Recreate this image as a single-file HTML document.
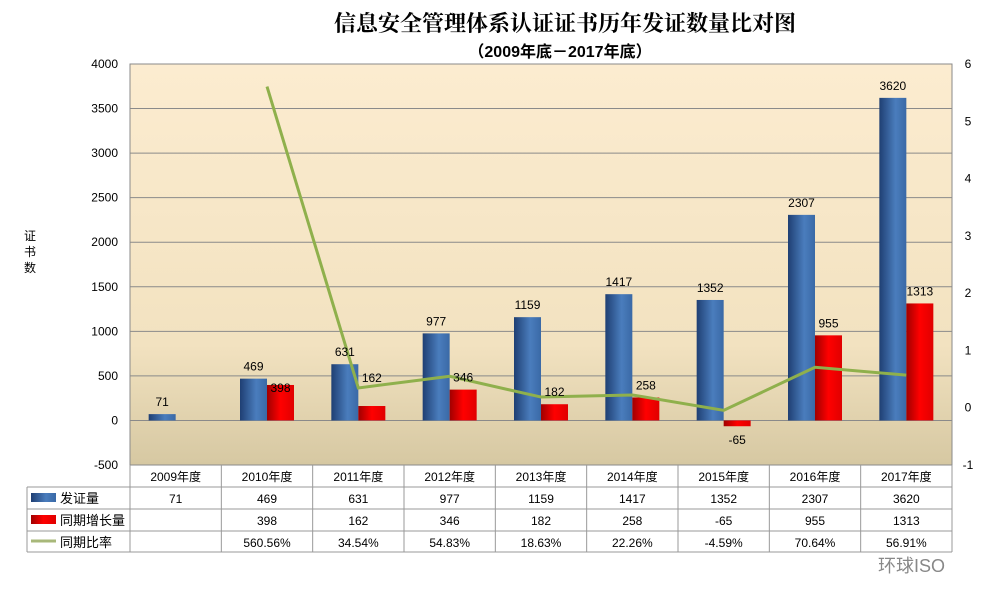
<!DOCTYPE html>
<html><head><meta charset="utf-8"><style>
body{margin:0;background:#fff;width:996px;height:607px;overflow:hidden;font-family:"Liberation Sans","Noto Sans CJK SC",sans-serif}
</style></head><body>
<svg id="chart" width="996" height="607" xmlns="http://www.w3.org/2000/svg">
<defs>
<linearGradient id="bg" x1="0" y1="0" x2="0" y2="1"><stop offset="0" stop-color="#fcecd0"/><stop offset="0.7" stop-color="#f2e2c0"/><stop offset="1" stop-color="#d6c8a2"/></linearGradient>
<linearGradient id="blue" x1="0" y1="0" x2="1" y2="0"><stop offset="0" stop-color="#1f3f73"/><stop offset="0.6" stop-color="#4a7dbd"/><stop offset="1" stop-color="#3a69a6"/></linearGradient>
<linearGradient id="red" x1="0" y1="0" x2="1" y2="0"><stop offset="0" stop-color="#a00000"/><stop offset="0.5" stop-color="#ff0000"/><stop offset="1" stop-color="#e00000"/></linearGradient>
</defs>
<text x="565" y="31" text-anchor="middle" font-size="22" font-weight="bold" font-family="Noto Serif CJK SC, serif">信息安全管理体系认证证书历年发证数量比对图</text>
<text x="560" y="57" text-anchor="middle" font-size="16" font-weight="bold">（2009年底－2017年底）</text>
<rect x="130" y="64" width="822" height="401" fill="url(#bg)" stroke="#8a8a8a"/>
<g id="grid"></g><g id="bars"></g><g id="line"></g><g id="labels"></g><g id="axes"></g><g id="table"></g>
<text font-size="12" text-anchor="middle"><tspan x="30" y="240">证</tspan><tspan x="30" y="256">书</tspan><tspan x="30" y="272">数</tspan></text>
<text x="878" y="572" font-size="18" fill="#888">环球ISO</text>
</svg>
<script>
const categories=["2009年度","2010年度","2011年度","2012年度","2013年度","2014年度","2015年度","2016年度","2017年度"];
const issued=[71,469,631,977,1159,1417,1352,2307,3620];
const growth=[null,398,162,346,182,258,-65,955,1313];
const ratio=[null,560.56,34.54,54.83,18.63,22.26,-4.59,70.64,56.91];
const leftTicks=[-500,0,500,1000,1500,2000,2500,3000,3500,4000];
const rightTicks=[-1,0,1,2,3,4,5,6];
const NS="http://www.w3.org/2000/svg";
const L=130,R=952,T=64,B=465,cw=(R-L)/categories.length;
const yL=v=>B-(v+500)/4500*(B-T);
const yR=v=>B-(v+1)/7*(B-T);
const cx=i=>L+cw*(i+0.5);
function mk(t,a,p,txt){const e=document.createElementNS(NS,t);for(const k in a)e.setAttribute(k,a[k]);if(txt!=null)e.textContent=txt;document.getElementById(p).appendChild(e);return e;}
leftTicks.forEach(v=>{const g=mk('line',{x1:L,x2:R,y1:yL(v),y2:yL(v),stroke:'#8a8a8a'},'grid');
const t=mk('text',{x:L-12,y:yL(v)+4,'text-anchor':'end','font-size':12},'axes',v);});
rightTicks.forEach(v=>{const t=mk('text',{x:968,y:yR(v)+4,'text-anchor':'middle','font-size':12},'axes',v);});
const bw=27;
categories.forEach((c,i)=>{
 const y0=yL(0);
 const yb=yL(issued[i]);
 const b=mk('rect',{x:cx(i)-bw,y:Math.min(yb,y0),width:bw,height:Math.abs(y0-yb),fill:'url(#blue)'},'bars');
 const lb=mk('text',{x:cx(i)-bw/2,y:yb-8,'text-anchor':'middle','font-size':12},'labels',issued[i]);
 if(growth[i]!=null){const yg=yL(growth[i]);
  const r=mk('rect',{x:cx(i),y:Math.min(yg,y0),width:bw,height:Math.abs(y0-yg),fill:'url(#red)'},'bars');
  let ly=growth[i]<0?yg+18:yg-8;
  if(i==1)ly=yg+7;
  if(i==2)ly=yg-24;
  const lg=mk('text',{x:cx(i)+bw/2,y:ly,'text-anchor':'middle','font-size':12},'labels',growth[i]);}
});
const pts=ratio.map((v,i)=>v==null?null:[cx(i),yR(v/100)]).filter(p=>p);
const pl=mk('polyline',{points:pts.map(p=>p.join(',')).join(' '),fill:'none',stroke:'#8fb04c','stroke-width':3},'line');
const rows=[[466,487],[487,509],[509,531],[531,552]];
const tl=27;
const st={stroke:'#999',fill:'none'};
for(let r=1;r<4;r++){mk('line',{x1:tl,x2:R,y1:rows[r][1],y2:rows[r][1],...st},'table');}
mk('line',{x1:tl,x2:R,y1:487,y2:487,...st},'table');
mk('line',{x1:tl,x2:tl,y1:487,y2:552,...st},'table');
for(let i=0;i<=categories.length;i++)mk('line',{x1:L+cw*i,x2:L+cw*i,y1:465,y2:552,...st},'table');
const fmt=[issued.map(v=>v),growth.map(v=>v==null?'':v),ratio.map(v=>v==null?'':v.toFixed(2)+'%')];
categories.forEach((c,i)=>{const t=mk('text',{x:cx(i),y:481,'text-anchor':'middle','font-size':12},'table',c);
 fmt.forEach((row,r)=>{const e=mk('text',{x:cx(i),y:rows[r+1][0]+16,'text-anchor':'middle','font-size':12},'table',row[i]);});});
const names=['发证量','同期增长量','同期比率'];
names.forEach((n,r)=>{const y=rows[r+1][0];
 if(r<2){const k=mk('rect',{x:31,y:y+6,width:25,height:9,fill:r==0?'url(#blue)':'url(#red)'},'table');}
 else{const k=mk('line',{x1:31,x2:56,y1:y+10,y2:y+10,stroke:'#a8b87a','stroke-width':3},'table');}
 const t=mk('text',{x:60,y:y+16,'font-size':13},'table',n);});
</script>
</body></html>
